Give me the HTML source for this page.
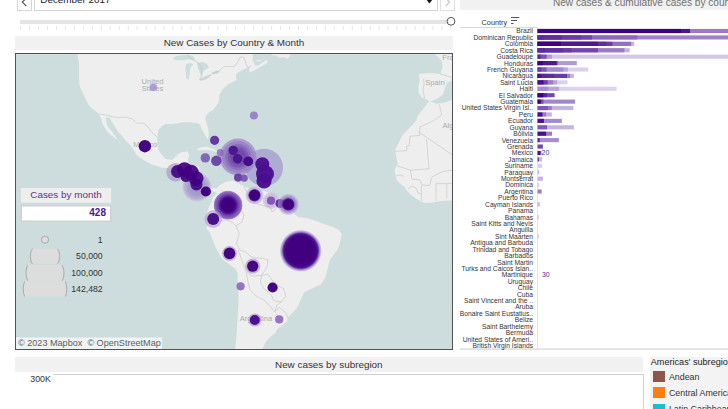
<!DOCTYPE html>
<html><head><meta charset="utf-8"><title>Dashboard</title>
<style>
html,body{margin:0;padding:0;background:#fff;}
body{width:728px;height:409px;overflow:hidden;position:relative;font-family:"Liberation Sans",Arial,sans-serif;}
.abs{position:absolute;box-sizing:border-box;}
</style></head><body>
<!-- top controls -->
<div class="abs" style="left:17px;top:-6px;width:15px;height:16.7px;border:1px solid #d4d4d4;background:#fff"></div>
<svg class="abs" style="left:17px;top:0" width="15" height="10"><polyline points="9.3,-1.8 5.3,2.1 9.3,6" fill="none" stroke="#555" stroke-width="1.2"/></svg>
<div class="abs" style="left:34px;top:-6px;width:404px;height:16.6px;border:1px solid #d4d4d4;background:#fff"></div>
<div class="abs" style="left:40.3px;top:-5.6px;font-size:9.9px;color:#222;white-space:nowrap">December 2017</div>
<svg class="abs" style="left:426px;top:0" width="8" height="4"><polygon points="0.6,-0.5 6.2,-0.5 3.4,3.2" fill="#111" stroke="#111" stroke-width="0.5" stroke-linejoin="round"/></svg>
<div class="abs" style="left:440px;top:-6px;width:15px;height:16.7px;border:1px solid #e0e0e0;background:#fff"></div>
<svg class="abs" style="left:440px;top:0" width="15" height="10"><polyline points="5.6,-1.8 9.6,2.1 5.6,6" fill="none" stroke="#c8c8c8" stroke-width="1.2"/></svg>
<div class="abs" style="left:20px;top:20px;width:428px;height:3.5px;background:#e4e4e4"></div>
<svg class="abs" style="left:0;top:0" width="460" height="35"><rect x="20.1" y="26" width="1" height="4" fill="#e6e6e6"/><rect x="29.1" y="26" width="1" height="4" fill="#e6e6e6"/><rect x="38.0" y="26" width="1" height="4" fill="#e6e6e6"/><rect x="47.0" y="26" width="1" height="4" fill="#e6e6e6"/><rect x="56.0" y="26" width="1" height="4" fill="#e6e6e6"/><rect x="64.9" y="26" width="1" height="4" fill="#e6e6e6"/><rect x="73.9" y="26" width="1" height="4" fill="#e6e6e6"/><rect x="82.8" y="26" width="1" height="4" fill="#e6e6e6"/><rect x="91.8" y="26" width="1" height="4" fill="#e6e6e6"/><rect x="100.8" y="26" width="1" height="4" fill="#e6e6e6"/><rect x="109.7" y="26" width="1" height="4" fill="#e6e6e6"/><rect x="118.7" y="26" width="1" height="4" fill="#e6e6e6"/><rect x="127.7" y="26" width="1" height="4" fill="#e6e6e6"/><rect x="136.6" y="26" width="1" height="4" fill="#e6e6e6"/><rect x="145.6" y="26" width="1" height="4" fill="#e6e6e6"/><rect x="154.5" y="26" width="1" height="4" fill="#e6e6e6"/><rect x="163.5" y="26" width="1" height="4" fill="#e6e6e6"/><rect x="172.5" y="26" width="1" height="4" fill="#e6e6e6"/><rect x="181.4" y="26" width="1" height="4" fill="#e6e6e6"/><rect x="190.4" y="26" width="1" height="4" fill="#e6e6e6"/><rect x="199.4" y="26" width="1" height="4" fill="#e6e6e6"/><rect x="208.3" y="26" width="1" height="4" fill="#e6e6e6"/><rect x="217.3" y="26" width="1" height="4" fill="#e6e6e6"/><rect x="226.2" y="26" width="1" height="4" fill="#e6e6e6"/><rect x="235.2" y="26" width="1" height="4" fill="#e6e6e6"/><rect x="244.2" y="26" width="1" height="4" fill="#e6e6e6"/><rect x="253.1" y="26" width="1" height="4" fill="#e6e6e6"/><rect x="262.1" y="26" width="1" height="4" fill="#e6e6e6"/><rect x="271.1" y="26" width="1" height="4" fill="#e6e6e6"/><rect x="280.0" y="26" width="1" height="4" fill="#e6e6e6"/><rect x="289.0" y="26" width="1" height="4" fill="#e6e6e6"/><rect x="298.0" y="26" width="1" height="4" fill="#e6e6e6"/><rect x="306.9" y="26" width="1" height="4" fill="#e6e6e6"/><rect x="315.9" y="26" width="1" height="4" fill="#e6e6e6"/><rect x="324.8" y="26" width="1" height="4" fill="#e6e6e6"/><rect x="333.8" y="26" width="1" height="4" fill="#e6e6e6"/><rect x="342.8" y="26" width="1" height="4" fill="#e6e6e6"/><rect x="351.7" y="26" width="1" height="4" fill="#e6e6e6"/><rect x="360.7" y="26" width="1" height="4" fill="#e6e6e6"/><rect x="369.7" y="26" width="1" height="4" fill="#e6e6e6"/><rect x="378.6" y="26" width="1" height="4" fill="#e6e6e6"/><rect x="387.6" y="26" width="1" height="4" fill="#e6e6e6"/><rect x="396.5" y="26" width="1" height="4" fill="#e6e6e6"/><rect x="405.5" y="26" width="1" height="4" fill="#e6e6e6"/><rect x="414.5" y="26" width="1" height="4" fill="#e6e6e6"/><rect x="423.4" y="26" width="1" height="4" fill="#e6e6e6"/><rect x="432.4" y="26" width="1" height="4" fill="#e6e6e6"/><rect x="441.4" y="26" width="1" height="4" fill="#e6e6e6"/><rect x="450.3" y="26" width="1" height="4" fill="#e6e6e6"/><circle cx="451" cy="21.3" r="3.9" fill="#fff" stroke="#555" stroke-width="1"/></svg>
<!-- map title -->
<div class="abs" style="left:15px;top:36px;width:438px;height:14px;background:#f1f1f1"></div>
<div class="abs" style="left:15px;top:37.3px;width:438px;text-align:center;font-size:9.9px;color:#333;white-space:nowrap">New Cases by Country &amp; Month</div>
<svg width="728" height="409" viewBox="0 0 728 409" style="position:absolute;left:0;top:0">
<defs><radialGradient id="g0" gradientUnits="userSpaceOnUse" cx="196.9" cy="186.9" r="14.5"><stop offset="0.000" stop-color="#7a55b5" stop-opacity="0.6"/><stop offset="0.621" stop-color="#8e6cc0" stop-opacity="0.55"/><stop offset="0.862" stop-color="#a58ccc" stop-opacity="0.5"/><stop offset="1.000" stop-color="#c0aedc" stop-opacity="0.35"/></radialGradient><radialGradient id="g1" gradientUnits="userSpaceOnUse" cx="228.1" cy="205.2" r="14.5"><stop offset="0.000" stop-color="#3f007d" stop-opacity="1"/><stop offset="0.414" stop-color="#40037f" stop-opacity="1"/><stop offset="0.572" stop-color="#46098a" stop-opacity="0.97"/><stop offset="0.655" stop-color="#5a22a0" stop-opacity="0.92"/><stop offset="0.772" stop-color="#6a38aa" stop-opacity="0.88"/><stop offset="0.910" stop-color="#7b52b5" stop-opacity="0.85"/><stop offset="0.972" stop-color="#8a66bd" stop-opacity="0.7"/><stop offset="1.000" stop-color="#8a66bd" stop-opacity="0.3"/></radialGradient><radialGradient id="g2" gradientUnits="userSpaceOnUse" cx="254.5" cy="195.3" r="9.2"><stop offset="0.000" stop-color="#3f007d" stop-opacity="1"/><stop offset="0.543" stop-color="#3f007d" stop-opacity="1"/><stop offset="0.630" stop-color="#5a2aa0" stop-opacity="0.9"/><stop offset="0.707" stop-color="#b09ad4" stop-opacity="0.75"/><stop offset="0.891" stop-color="#c8b6e0" stop-opacity="0.75"/><stop offset="1.000" stop-color="#d0c0e6" stop-opacity="0.3"/></radialGradient><radialGradient id="g3" gradientUnits="userSpaceOnUse" cx="288.3" cy="204.4" r="10.8"><stop offset="0.000" stop-color="#3f007d" stop-opacity="1"/><stop offset="0.426" stop-color="#3f007d" stop-opacity="1"/><stop offset="0.519" stop-color="#4a108e" stop-opacity="0.95"/><stop offset="0.602" stop-color="#7a55b5" stop-opacity="0.75"/><stop offset="0.787" stop-color="#9a7ec8" stop-opacity="0.6"/><stop offset="0.926" stop-color="#b8a3d8" stop-opacity="0.5"/><stop offset="1.000" stop-color="#c8b6e0" stop-opacity="0.15"/></radialGradient><radialGradient id="g4" gradientUnits="userSpaceOnUse" cx="300.7" cy="250.8" r="21"><stop offset="0.000" stop-color="#3f007d" stop-opacity="1"/><stop offset="0.667" stop-color="#40037f" stop-opacity="1"/><stop offset="0.800" stop-color="#46098a" stop-opacity="0.98"/><stop offset="0.848" stop-color="#5a25a0" stop-opacity="0.9"/><stop offset="0.895" stop-color="#7d58b8" stop-opacity="0.7"/><stop offset="0.952" stop-color="#a58ccc" stop-opacity="0.55"/><stop offset="1.000" stop-color="#c0aedc" stop-opacity="0.2"/></radialGradient><filter id="bl" x="-10%" y="-10%" width="120%" height="120%"><feGaussianBlur stdDeviation="0.75"/></filter><clipPath id="mc"><rect x="16" y="54" width="436.5" height="295.3"/></clipPath>
<clipPath id="l1"><rect x="20" y="248.8" width="50" height="15"/></clipPath>
<clipPath id="l2"><rect x="20" y="265" width="50" height="15.8"/></clipPath>
<clipPath id="l3"><rect x="20" y="281.6" width="50" height="14.8"/></clipPath>
</defs>
<g clip-path="url(#mc)">
<rect x="15" y="53" width="440" height="300" fill="#cddddd"/>
<polygon points="77.4,53.0 252.8,53.0 252.8,56.0 252.3,59.2 253.8,62.3 254.9,65.4 258.0,65.4 263.1,62.3 265.7,59.7 267.5,60.5 267.2,63.3 261.0,66.4 255.9,69.5 250.7,72.6 248.7,70.5 249.7,67.5 252.8,65.6 249.7,65.9 247.7,67.4 245.6,68.4 240.4,71.0 236.3,73.6 235.9,77.7 236.5,80.0 231.9,82.3 228.4,84.0 226.1,86.3 222.2,89.7 219.4,95.2 218.5,102.5 213.0,110.0 208.7,112.4 205.0,117.3 206.3,122.2 208.1,128.3 208.7,134.5 207.5,139.4 205.0,134.5 202.6,130.8 201.4,128.3 200.2,124.7 196.5,122.8 189.1,122.2 181.8,122.2 178.1,123.2 172.0,124.1 165.9,124.1 162.2,125.9 158.6,129.6 157.3,136.9 157.3,144.3 158.6,150.4 162.2,155.3 165.9,158.9 172.0,160.0 178.1,154.0 181.8,152.2 187.9,151.6 189.1,155.3 188.0,160.0 189.0,164.0 195.0,165.5 199.0,167.0 200.0,172.0 200.0,178.0 202.0,184.0 205.0,187.5 209.0,189.0 213.0,188.0 216.0,188.5 221.3,184.3 227.0,181.5 233.5,180.4 240.0,184.2 247.3,187.8 258.3,189.7 265.7,191.5 276.7,197.0 284.0,204.4 291.4,209.9 295.0,214.4 298.7,217.2 306.0,218.1 313.4,220.0 322.6,223.6 331.7,226.4 339.0,230.0 341.8,233.7 340.9,239.2 338.3,248.3 329.8,260.0 327.6,268.8 325.4,277.6 321.0,284.2 312.2,288.6 304.5,291.9 301.2,298.5 297.9,306.2 293.5,311.7 288.0,317.2 286.9,321.6 281.4,326.0 277.0,329.3 275.9,332.6 270.4,337.0 266.0,341.4 262.7,348.0 262.3,351.0 235.0,351.0 236.5,337.0 237.0,327.0 237.8,315.0 238.5,305.0 238.5,294.7 238.5,287.3 237.6,280.0 237.6,273.6 235.7,269.0 229.3,264.4 222.0,258.9 218.3,252.5 214.7,245.2 211.9,237.8 209.2,231.4 206.4,228.7 207.3,225.0 206.4,218.4 207.0,212.0 210.0,205.0 213.0,198.0 217.0,193.0 214.0,191.5 211.0,190.0 206.0,191.0 200.0,190.0 195.0,187.0 188.0,182.0 182.0,177.0 175.0,172.0 168.4,168.3 161.0,167.4 150.0,163.7 140.9,158.2 136.5,155.0 134.0,150.2 130.3,145.3 125.5,140.5 121.8,135.6 118.1,131.9 115.1,127.0 112.0,122.1 109.6,117.8 106.5,117.3 105.9,118.4 107.1,125.8 111.4,130.7 115.7,136.8 119.3,142.9 121.8,145.6 118.1,140.5 113.2,136.8 108.3,133.1 105.9,129.4 102.2,123.3 101.0,118.4 98.6,113.6 92.4,108.7 88.4,104.4 83.8,95.2 79.6,86.0 79.0,78.7 79.0,64.0" fill="#eeeeee"/>
<polygon points="270.3,53.0 290.0,53.0 290.0,56.0 287.5,59.0 284.0,57.0 280.0,58.0 276.0,55.5 272.0,55.2" fill="#eeeeee"/>
<polygon points="196.5,149.1 201.4,147.3 206.3,146.7 211.2,147.9 216.0,150.4 218.5,152.8 216.0,152.0 211.2,150.4 205.0,149.8 198.9,150.4" fill="#eeeeee"/>
<polygon points="229.0,158.5 236.0,158.0 242.0,159.5 241.0,162.5 235.0,162.0 230.0,161.0" fill="#eeeeee"/>
<polygon points="255.8,60.4 259.5,59.9 261.5,60.8 257.0,61.6" fill="#eeeeee"/>
<polygon points="432.9,53.0 453.0,53.0 453.0,80.2 446.8,83.0 444.7,89.2 442.6,94.8 437.0,99.0 429.4,101.7 425.9,99.0 421.7,97.6 418.9,93.4 418.2,87.8 419.6,80.9 418.9,73.9 425.9,73.2 432.9,73.2 440.5,73.9 441.2,71.1 442.6,66.9 441.9,61.4 438.4,57.2" fill="#eeeeee"/>
<polygon points="428.2,102.2 431.3,101.4 436.1,103.7 442.5,103.0 450.4,100.6 453.0,99.8 453.0,200.4 449.5,200.4 441.5,201.1 432.0,202.4 425.3,203.1 421.3,201.7 415.9,198.4 410.5,194.4 406.5,190.3 403.8,186.3 399.8,183.6 396.4,179.6 395.8,175.5 394.4,171.5 395.8,167.5 397.8,164.8 397.1,160.8 395.8,154.0 395.1,150.0 396.4,147.5 399.5,141.1 402.7,134.7 407.5,130.0 412.3,125.2 416.2,120.4 417.8,115.7 421.0,111.7 424.2,107.7" fill="#eeeeee"/>
<polygon points="172.7,59.3 175.4,56.6 180.9,55.3 187.2,54.8 192.6,55.7 195.3,59.3 192.6,60.2 188.1,59.3 183.6,60.2 178.1,60.2" fill="#cddddd"/><polygon points="186.3,63.9 190.8,63.0 193.5,64.8 190.8,66.6 189.9,71.1 189.5,76.5 188.1,80.1 186.3,78.3 185.8,73.0 185.4,67.5" fill="#cddddd"/><polygon points="197.1,63.0 202.6,62.0 207.1,63.9 208.9,67.5 206.2,69.3 203.5,71.1 202.1,76.5 199.9,72.9 198.1,69.3" fill="#cddddd"/><polygon points="199.0,79.2 204.4,76.5 209.8,74.7 211.6,75.6 206.2,79.2 200.8,81.0" fill="#cddddd"/><polygon points="211.6,72.5 217.1,70.6 219.8,71.1 218.0,73.8 213.4,74.3" fill="#cddddd"/>
<g fill="none" stroke="#c2c2c2" stroke-width="0.6">
<polyline points="99.4,114.0 106.0,115.0 117.0,117.8 125.3,117.0 131.7,118.8 137.2,123.3 143.6,123.3 148.2,127.0 151.9,132.5 157.3,136.9"/><polyline points="187.2,54.8 193.5,60.2 197.1,62.0 200.8,65.7 201.7,71.1 201.2,77.0 199.9,79.2 202.6,79.2 208.9,76.5 211.6,73.8 218.9,71.1 222.5,67.5 225.2,66.6 234.2,66.6 237.6,62.2 240.0,57.0 243.4,57.0 245.1,59.9 246.3,64.5 248.0,68.0"/><polyline points="423.7,79.0 424.0,85.0 423.0,90.0 424.5,98.0"/><polyline points="440.0,73.9 446.0,75.5 452.0,77.4"/><polyline points="439.3,104.5 441.7,114.9 432.9,121.2 420.2,126.8 419.4,132.4 419.4,135.5 409.9,136.3 409.1,145.9 406.7,145.9 406.7,150.6 394.8,151.4"/><polyline points="419.4,132.4 453.0,155.4"/><polyline points="426.6,139.5 428.2,160.0 429.1,168.8 410.5,170.2 397.8,166.0"/><polyline points="410.5,170.2 411.9,178.9 420.0,180.2 422.0,185.0 429.4,185.6 432.0,176.9 442.8,171.5 453.0,170.0"/><polyline points="396.4,175.5 401.0,175.0 404.0,176.5"/><polyline points="421.3,186.0 421.3,201.0"/><polyline points="436.0,183.6 436.0,201.0"/><polyline points="446.8,183.6 446.8,198.4"/><polyline points="436.0,183.6 446.8,183.6 453.0,183.0"/><polyline points="408.0,189.0 412.0,186.0 416.0,188.0 418.0,193.0 421.3,194.0"/><polyline points="221.0,190.0 226.0,193.0 228.0,197.0 232.0,201.0 236.0,205.0 240.0,208.0"/><polyline points="244.0,186.0 247.0,193.0 252.0,200.0 258.0,204.0 264.0,206.0 270.0,207.0 272.0,212.0 275.0,210.0 278.0,205.0"/><polyline points="240.0,208.0 244.0,215.0 242.0,222.0 236.0,226.0 232.0,222.0 226.0,220.0 216.0,221.0 212.0,222.0"/><polyline points="236.0,226.0 239.2,233.0 236.5,243.8 240.0,250.0 246.0,252.0 250.0,256.0 256.0,258.0 262.0,258.0 268.2,260.0 267.1,266.6 261.6,275.4"/><polyline points="238.5,250.0 241.0,258.0 244.0,266.0 246.0,272.0 252.0,276.0 261.6,275.4 268.2,274.3 274.8,284.2 283.6,288.6 285.8,296.3 281.4,301.8 273.7,300.7 271.5,295.2 263.8,288.6 260.5,282.0 261.6,275.4"/><polyline points="246.0,272.0 248.0,282.0 250.0,290.0 256.0,296.0 263.8,300.0 268.0,304.0 274.8,311.7"/><polyline points="281.4,301.8 277.0,305.0 274.8,311.7 279.2,307.3 285.8,312.8 288.0,318.3"/>
</g>
<g font-family="Liberation Sans, sans-serif" font-size="7.6" fill="#acacac" text-anchor="middle">
<text x="152.5" y="83.6">United</text><text x="152.5" y="91.1">States</text><text x="145.2" y="146.6">México</text><text x="435" y="84.5">Spain</text><text x="448" y="59.8">Fra</text><text x="448" y="127.5">Alg</text><text x="256" y="321">Argentina</text>
</g>
<g filter="url(#bl)"><circle cx="153.3" cy="87.2" r="3.8" fill="#a78bd3" fill-opacity="0.8"/>
<circle cx="253.9" cy="115.4" r="4.0" fill="#9273c6" fill-opacity="0.85"/>
<circle cx="144.9" cy="146.2" r="6.2" fill="#3f007d" fill-opacity="0.97"/>
<circle cx="214.6" cy="140.3" r="4.6" fill="#5a2a9c" fill-opacity="0.92"/>
<circle cx="238" cy="157" r="18.5" fill="#9676c6" fill-opacity="0.62"/>
<circle cx="238" cy="157" r="16" fill="#7a55b5" fill-opacity="0.32"/>
<circle cx="238" cy="157" r="13" fill="#6a40ab" fill-opacity="0.32"/>
<circle cx="238" cy="157" r="10.5" fill="#5a30a0" fill-opacity="0.32"/>
<circle cx="238" cy="157" r="8" fill="#5a30a0" fill-opacity="0.32"/>
<circle cx="264.2" cy="167.5" r="18.8" fill="#9682c8" fill-opacity="0.55"/>
<circle cx="205.3" cy="157.9" r="4.7" fill="#7a55b0" fill-opacity="0.88"/>
<circle cx="220.3" cy="152.7" r="3.6" fill="#8e66bd" fill-opacity="0.8"/>
<circle cx="216.3" cy="160.8" r="5.2" fill="#5e2e9e" fill-opacity="0.85"/>
<circle cx="233.2" cy="150.4" r="4.7" fill="#4a148e" fill-opacity="0.95"/>
<circle cx="237.6" cy="158.7" r="4.7" fill="#46108b" fill-opacity="0.95"/>
<circle cx="248.2" cy="161.4" r="4.9" fill="#420886" fill-opacity="0.97"/>
<circle cx="262.3" cy="164.2" r="7.0" fill="#4b0f8f" fill-opacity="0.95"/>
<circle cx="265" cy="174" r="9.0" fill="#4b0f8f" fill-opacity="0.95"/>
<circle cx="264" cy="181" r="7.6" fill="#4b0f8f" fill-opacity="0.95"/>
<circle cx="238.1" cy="177.6" r="4.1" fill="#5e2e9e" fill-opacity="0.88"/>
<circle cx="244.2" cy="178.2" r="3.6" fill="#7346ad" fill-opacity="0.85"/>
<circle cx="175.5" cy="172.3" r="9.2" fill="#a58ccc" fill-opacity="0.6"/>
<circle cx="196.9" cy="186.9" r="14.5" fill="url(#g0)" fill-opacity="1"/>
<circle cx="177.5" cy="171.5" r="6.5" fill="#420582" fill-opacity="0.93"/>
<circle cx="184.5" cy="169.5" r="7.3" fill="#420582" fill-opacity="0.93"/>
<circle cx="191" cy="172.5" r="7.8" fill="#420582" fill-opacity="0.93"/>
<circle cx="196" cy="178.5" r="7.5" fill="#420582" fill-opacity="0.93"/>
<circle cx="196.5" cy="184.5" r="6" fill="#420582" fill-opacity="0.93"/>
<circle cx="186" cy="176.5" r="5.5" fill="#420582" fill-opacity="0.93"/>
<circle cx="205.9" cy="191.5" r="5.1" fill="#3f007d" fill-opacity="0.97"/>
<circle cx="228.1" cy="205.2" r="14.5" fill="url(#g1)" fill-opacity="1"/>
<circle cx="213.2" cy="219.1" r="8.8" fill="#b39ad6" fill-opacity="0.6"/>
<circle cx="213.2" cy="219.1" r="6" fill="#430885" fill-opacity="0.95"/>
<circle cx="254.5" cy="195.3" r="9.2" fill="url(#g2)" fill-opacity="1"/>
<circle cx="271" cy="200.7" r="8.2" fill="#c8b6e0" fill-opacity="0.6"/>
<circle cx="271" cy="200.7" r="6.5" fill="#b8a0d8" fill-opacity="0.3"/>
<circle cx="271" cy="200.7" r="4.1" fill="#7d50b5" fill-opacity="0.92"/>
<circle cx="280.1" cy="203.5" r="4.6" fill="#5a23a0" fill-opacity="0.92"/>
<circle cx="288.3" cy="204.4" r="10.8" fill="url(#g3)" fill-opacity="1"/>
<circle cx="300.7" cy="250.8" r="21" fill="url(#g4)" fill-opacity="1"/>
<circle cx="229.5" cy="253.4" r="7.4" fill="#a58ccc" fill-opacity="0.6"/>
<circle cx="229.5" cy="253.4" r="5.8" fill="#3f007d" fill-opacity="0.95"/>
<circle cx="252.7" cy="266.2" r="7.6" fill="#a58ccc" fill-opacity="0.6"/>
<circle cx="252.7" cy="266.2" r="5.6" fill="#3f007d" fill-opacity="0.95"/>
<circle cx="272.6" cy="287.5" r="5.1" fill="#3f007d" fill-opacity="0.97"/>
<circle cx="240.6" cy="286.3" r="4.1" fill="#8e66bd" fill-opacity="0.9"/>
<circle cx="254.8" cy="320" r="6.6" fill="#a58ccc" fill-opacity="0.6"/>
<circle cx="254.8" cy="320" r="5" fill="#4a0a8e" fill-opacity="0.95"/>
<circle cx="279.2" cy="319.4" r="4.1" fill="#8e66bd" fill-opacity="0.9"/></g>
<rect x="16" y="337.5" width="146" height="12" fill="#ffffff" fill-opacity="0.65"/>
<text x="18" y="346.3" font-family="Liberation Sans, sans-serif" font-size="9.1" fill="#5e5e5e">© 2023 Mapbox&#160; © OpenStreetMap</text>
<!-- legend -->
<rect x="20.8" y="188" width="90.4" height="14.7" fill="#eeeeee"/>
<text x="66" y="198.2" text-anchor="middle" font-family="Liberation Sans, sans-serif" font-size="9.9" fill="#62318f">Cases by month</text>
<rect x="21.3" y="205.9" width="89.4" height="15.2" fill="#ffffff" stroke="#c8c8c8" stroke-width="1"/>
<text x="106" y="215.8" text-anchor="end" font-family="Liberation Sans, sans-serif" font-size="10" font-weight="bold" fill="#4a1a86">428</text>
<circle cx="45" cy="239.7" r="3.6" fill="#dddddd" stroke="#aaaaaa" stroke-width="1"/>
<g fill="#dddddd" stroke="#aaaaaa" stroke-width="1">
<circle cx="45" cy="256.3" r="14.8" clip-path="url(#l1)"/>
<circle cx="45" cy="272.9" r="19" clip-path="url(#l2)"/>
<circle cx="45" cy="289" r="21.8" clip-path="url(#l3)"/>
</g>
<g font-family="Liberation Sans, sans-serif" font-size="8.7" fill="#333" text-anchor="end">
<text x="102.7" y="242.8">1</text>
<text x="102.7" y="259.3">50,000</text>
<text x="102.7" y="275.8">100,000</text>
<text x="102.7" y="292.3">142,482</text>
</g>
</g>
<rect x="15.5" y="53.5" width="437" height="296" fill="none" stroke="#525252" stroke-width="1"/>
</svg>
<svg width="728" height="409" viewBox="0 0 728 409" style="position:absolute;left:0;top:0">
<rect x="460" y="0" width="268" height="9.9" fill="#f1f1f1"/>
<text x="552.9" y="6.1" font-family="Liberation Sans, sans-serif" font-size="10.1" fill="#707070">New cases &amp; cumulative cases by country</text>
<text x="481.6" y="25.3" font-family="Liberation Sans, sans-serif" font-size="7.3" fill="#333">Country</text>
<g fill="#555"><rect x="511" y="17" width="8.3" height="1"/><rect x="511" y="20" width="6" height="1"/><rect x="511" y="23" width="2.5" height="1"/></g>
<rect x="460" y="27" width="77.5" height="0.8" fill="#cfcfcf"/>
<rect x="537" y="27" width="0.8" height="322" fill="#dedede"/>
<rect x="460" y="348.6" width="268" height="0.9" fill="#c4c4c4"/>
<g font-family="Liberation Sans, sans-serif" font-size="6.7" fill="#333" text-anchor="end">
<text x="533" y="33.40">Brazil</text>
<text x="533" y="39.82">Dominican Republic</text>
<text x="533" y="46.24">Colombia</text>
<text x="533" y="52.66">Costa Rica</text>
<text x="533" y="59.08">Guadeloupe</text>
<text x="533" y="65.50">Honduras</text>
<text x="533" y="71.92">French Guyana</text>
<text x="533" y="78.34">Nicaragua</text>
<text x="533" y="84.76">Saint Lucia</text>
<text x="533" y="91.18">Haiti</text>
<text x="533" y="97.60">El Salvador</text>
<text x="533" y="104.02">Guatemala</text>
<text x="533" y="110.44">United States Virgin Isl..</text>
<text x="533" y="116.86">Peru</text>
<text x="533" y="123.28">Ecuador</text>
<text x="533" y="129.70">Guyana</text>
<text x="533" y="136.12">Bolivia</text>
<text x="533" y="142.54">Venezuela</text>
<text x="533" y="148.96">Grenada</text>
<text x="533" y="155.38">Mexico</text>
<text x="533" y="161.80">Jamaica</text>
<text x="533" y="168.22">Suriname</text>
<text x="533" y="174.64">Paraguay</text>
<text x="533" y="181.06">Montserrat</text>
<text x="533" y="187.48">Dominica</text>
<text x="533" y="193.90">Argentina</text>
<text x="533" y="200.32">Puerto Rico</text>
<text x="533" y="206.74">Cayman Islands</text>
<text x="533" y="213.16">Panama</text>
<text x="533" y="219.58">Bahamas</text>
<text x="533" y="226.00">Saint Kitts and Nevis</text>
<text x="533" y="232.42">Anguilla</text>
<text x="533" y="238.84">Sint Maarten</text>
<text x="533" y="245.26">Antigua and Barbuda</text>
<text x="533" y="251.68">Trinidad and Tobago</text>
<text x="533" y="258.10">Barbados</text>
<text x="533" y="264.52">Saint Martin</text>
<text x="533" y="270.94">Turks and Caicos Islan..</text>
<text x="533" y="277.36">Martinique</text>
<text x="533" y="283.78">Uruguay</text>
<text x="533" y="290.20">Chile</text>
<text x="533" y="296.62">Cuba</text>
<text x="533" y="303.04">Saint Vincent and the ..</text>
<text x="533" y="309.46">Aruba</text>
<text x="533" y="315.88">Bonaire Saint Eustatius..</text>
<text x="533" y="322.30">Belize</text>
<text x="533" y="328.72">Saint Barthelemy</text>
<text x="533" y="335.14">Bermuda</text>
<text x="533" y="341.56">United States of Ameri..</text>
<text x="533" y="347.98">British Virgin Islands</text>
</g>
<rect x="537.6" y="28.95" width="190.4" height="4.1" fill="#9b7bc6"/>
<rect x="537.6" y="28.95" width="152.4" height="4.1" fill="#4d1590"/>
<rect x="537.6" y="28.95" width="143.4" height="4.1" fill="#40007f"/>
<rect x="537.6" y="35.37" width="190.4" height="4.1" fill="#a080c8"/>
<rect x="537.6" y="35.37" width="99.7" height="4.1" fill="#8e66bd"/>
<rect x="537.6" y="35.37" width="54.4" height="4.1" fill="#7346ad"/>
<rect x="537.6" y="35.37" width="43.8" height="4.1" fill="#6a3aa8"/>
<rect x="537.6" y="35.37" width="24.1" height="4.1" fill="#5e2e9e"/>
<rect x="537.6" y="35.37" width="6.8" height="4.1" fill="#5a2a9c"/>
<rect x="537.6" y="41.79" width="96.7" height="4.1" fill="#c4b3de"/>
<rect x="537.6" y="41.79" width="93.6" height="4.1" fill="#9270c0"/>
<rect x="537.6" y="41.79" width="74.8" height="4.1" fill="#6a3aa8"/>
<rect x="537.6" y="41.79" width="68.7" height="4.1" fill="#5e2e9e"/>
<rect x="537.6" y="41.79" width="60.4" height="4.1" fill="#50188f"/>
<rect x="537.6" y="41.79" width="23.4" height="4.1" fill="#400080"/>
<rect x="537.6" y="48.21" width="92.1" height="4.1" fill="#c4b3de"/>
<rect x="537.6" y="48.21" width="86.8" height="4.1" fill="#9b7bc6"/>
<rect x="537.6" y="48.21" width="60.4" height="4.1" fill="#7346ad"/>
<rect x="537.6" y="48.21" width="34.0" height="4.1" fill="#6a3aa8"/>
<rect x="537.6" y="48.21" width="25.6" height="4.1" fill="#6030a0"/>
<rect x="537.6" y="48.21" width="7.5" height="4.1" fill="#5a2a9c"/>
<rect x="537.6" y="54.63" width="190.4" height="4.1" fill="#d4c6e6"/>
<rect x="537.6" y="54.63" width="14.3" height="4.1" fill="#b09ad4"/>
<rect x="537.6" y="54.63" width="9.0" height="4.1" fill="#7a50b2"/>
<rect x="537.6" y="54.63" width="3.0" height="4.1" fill="#5a2a9c"/>
<rect x="537.6" y="61.05" width="39.2" height="4.1" fill="#b09ad4"/>
<rect x="537.6" y="61.05" width="20.0" height="4.1" fill="#6a3aa8"/>
<rect x="537.6" y="61.05" width="18.8" height="4.1" fill="#4e1a8e"/>
<rect x="537.6" y="61.05" width="5.2" height="4.1" fill="#3f007d"/>
<rect x="537.6" y="67.47" width="50.6" height="4.1" fill="#dcd1ec"/>
<rect x="537.6" y="67.47" width="30.2" height="4.1" fill="#b9a5d6"/>
<rect x="537.6" y="67.47" width="25.6" height="4.1" fill="#a58ccc"/>
<rect x="537.6" y="67.47" width="9.0" height="4.1" fill="#7d58b4"/>
<rect x="537.6" y="67.47" width="3.7" height="4.1" fill="#6a3aa8"/>
<rect x="537.6" y="73.89" width="36.2" height="4.1" fill="#c4b3de"/>
<rect x="537.6" y="73.89" width="32.4" height="4.1" fill="#9b7bc6"/>
<rect x="537.6" y="73.89" width="29.4" height="4.1" fill="#6a3aa8"/>
<rect x="537.6" y="73.89" width="16.6" height="4.1" fill="#5e2e9e"/>
<rect x="537.6" y="73.89" width="9.0" height="4.1" fill="#5a2a9c"/>
<rect x="537.6" y="73.89" width="3.7" height="4.1" fill="#4a1090"/>
<rect x="537.6" y="80.31" width="29.9" height="4.1" fill="#dcd1ec"/>
<rect x="537.6" y="80.31" width="19.6" height="4.1" fill="#b9a5d6"/>
<rect x="537.6" y="80.31" width="15.5" height="4.1" fill="#9b7bc6"/>
<rect x="537.6" y="80.31" width="10.1" height="4.1" fill="#6a3aa8"/>
<rect x="537.6" y="80.31" width="6.0" height="4.1" fill="#4a1090"/>
<rect x="537.6" y="86.73" width="79.0" height="4.1" fill="#ddd3ec"/>
<rect x="537.6" y="86.73" width="21.5" height="4.1" fill="#b9a5d6"/>
<rect x="537.6" y="86.73" width="10.3" height="4.1" fill="#a58ccc"/>
<rect x="537.6" y="93.15" width="17.0" height="4.1" fill="#7346ad"/>
<rect x="537.6" y="93.15" width="9.4" height="4.1" fill="#5a2a9c"/>
<rect x="537.6" y="93.15" width="5.8" height="4.1" fill="#3f007d"/>
<rect x="537.6" y="99.57" width="37.4" height="4.1" fill="#a086cc"/>
<rect x="537.6" y="99.57" width="5.8" height="4.1" fill="#7346ad"/>
<rect x="537.6" y="99.57" width="3.1" height="4.1" fill="#3f007d"/>
<rect x="537.6" y="105.99" width="35.8" height="4.1" fill="#c4b3de"/>
<rect x="537.6" y="105.99" width="14.2" height="4.1" fill="#9b7bc6"/>
<rect x="537.6" y="105.99" width="10.3" height="4.1" fill="#8058b8"/>
<rect x="537.6" y="112.41" width="14.2" height="4.1" fill="#c4b3de"/>
<rect x="537.6" y="112.41" width="8.5" height="4.1" fill="#9b7bc6"/>
<rect x="537.6" y="112.41" width="4.9" height="4.1" fill="#4a1090"/>
<rect x="537.6" y="118.83" width="24.2" height="4.1" fill="#a58ccc"/>
<rect x="537.6" y="118.83" width="6.3" height="4.1" fill="#4a1090"/>
<rect x="537.6" y="125.25" width="36.3" height="4.1" fill="#c4b3de"/>
<rect x="537.6" y="125.25" width="9.4" height="4.1" fill="#8058b8"/>
<rect x="537.6" y="131.67" width="14.4" height="4.1" fill="#9b7bc6"/>
<rect x="537.6" y="131.67" width="8.5" height="4.1" fill="#4a1090"/>
<rect x="537.6" y="138.09" width="21.3" height="4.1" fill="#a58ccc"/>
<rect x="537.6" y="138.09" width="2.2" height="4.1" fill="#5a2a9c"/>
<rect x="537.6" y="144.51" width="5.3" height="4.1" fill="#7346ad"/>
<rect x="537.6" y="150.93" width="4.0" height="4.1" fill="#9b7bc6"/>
<rect x="537.6" y="150.93" width="2.8" height="4.1" fill="#4a1090"/>
<rect x="537.6" y="157.35" width="4.4" height="4.1" fill="#c4b3de"/>
<rect x="537.6" y="157.35" width="1.3" height="4.1" fill="#6a3aa8"/>
<rect x="537.6" y="163.77" width="4.4" height="4.1" fill="#dcd1ec"/>
<rect x="537.6" y="170.19" width="1.4" height="4.1" fill="#c4b3de"/>
<rect x="537.6" y="176.61" width="5.3" height="4.1" fill="#c4b3de"/>
<rect x="537.6" y="183.03" width="1.0" height="4.1" fill="#c4b3de"/>
<rect x="537.6" y="189.45" width="4.0" height="4.1" fill="#9b7bc6"/>
<rect x="537.6" y="202.29" width="2.2" height="4.1" fill="#c4b3de"/>
<rect x="537.6" y="215.13" width="1.0" height="4.1" fill="#c4b3de"/>
<rect x="537.6" y="234.39" width="1.0" height="4.1" fill="#c4b3de"/>
<text x="541.6" y="155.3" font-family="Liberation Sans, sans-serif" font-size="7.0" fill="#5b2c8c">20</text>
<text x="541.9" y="277" font-family="Liberation Sans, sans-serif" font-size="7.0" fill="#5b2c8c">30</text>
</svg>
<!-- bottom -->
<div class="abs" style="left:15px;top:357.3px;width:627.6px;height:14.4px;background:#f1f1f1"></div>
<div class="abs" style="left:15px;top:358.5px;width:627.6px;text-align:center;font-size:9.9px;color:#333;white-space:nowrap">New cases by subregion</div>
<div class="abs" style="left:52.7px;top:374.2px;width:591px;height:1px;background:#d0d0d0"></div>
<div class="abs" style="left:643px;top:374.2px;width:1px;height:40px;background:#d0d0d0"></div>
<div class="abs" style="left:30.3px;top:374.3px;font-size:8.8px;color:#333">300K</div>
<div class="abs" style="left:649.8px;top:357px;width:80px;height:60px;background:#f3f3f3"></div>
<div class="abs" style="left:650.8px;top:356.6px;font-size:9.1px;color:#222;white-space:nowrap">Americas' subregion</div>
<div class="abs" style="left:653px;top:371px;width:11.5px;height:10.7px;background:#8c564b"></div>
<div class="abs" style="left:653px;top:387.2px;width:11.5px;height:11.1px;background:#ff7f0e"></div>
<div class="abs" style="left:653px;top:403.8px;width:11.5px;height:11px;background:#17becf"></div>
<div class="abs" style="left:668.9px;top:371.5px;font-size:8.9px;color:#333;white-space:nowrap">Andean</div>
<div class="abs" style="left:668.9px;top:387.7px;font-size:8.9px;color:#333;white-space:nowrap">Central America</div>
<div class="abs" style="left:668.9px;top:403.9px;font-size:8.9px;color:#333;white-space:nowrap">Latin Caribbean</div>
</body></html>
